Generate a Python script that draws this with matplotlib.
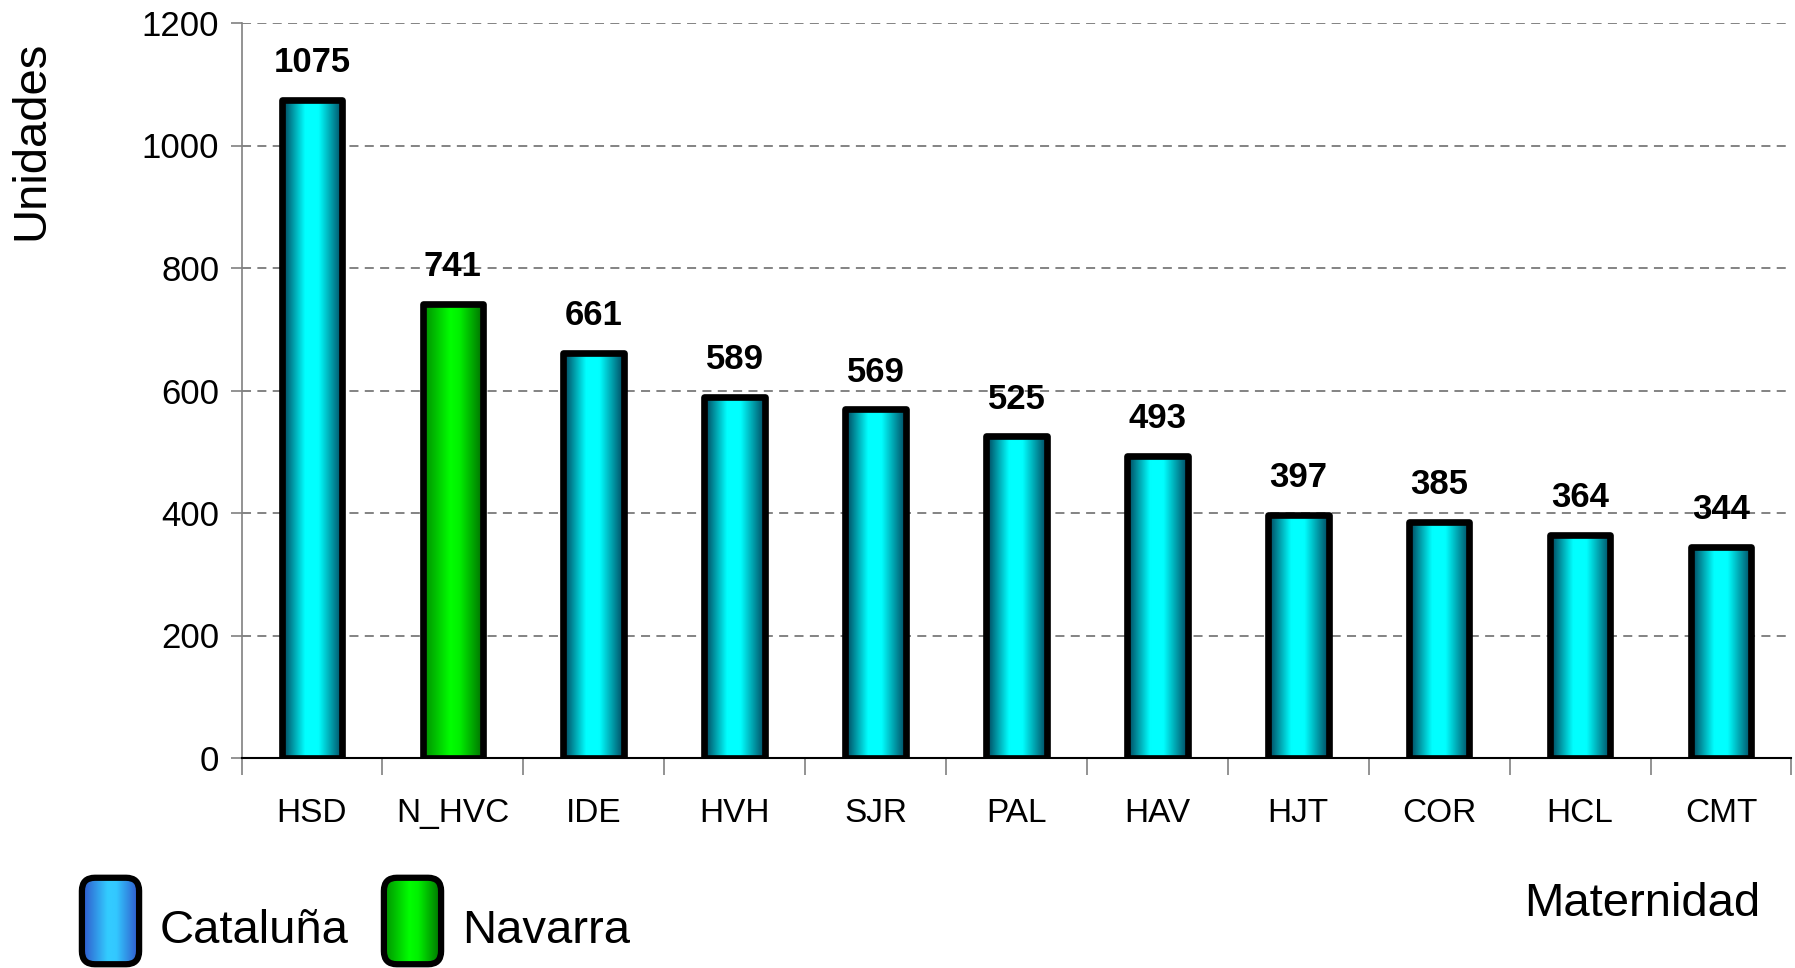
import numpy as np
import matplotlib
matplotlib.use("Agg")
import matplotlib.pyplot as plt
from matplotlib.colors import LinearSegmentedColormap
from matplotlib.patches import FancyBboxPatch

plt.rcParams['font.family'] = ['Liberation Sans', 'DejaVu Sans']

# data
maternidades = ["HSD", "N_HVC", "IDE", "HVH", "SJR", "PAL", "HAV", "HJT", "COR", "HCL", "CMT"]
unidades = [1075, 741, 661, 589, 569, 525, 493, 397, 385, 364, 344]
comunidad = ["Cataluña", "Navarra", "Cataluña", "Cataluña", "Cataluña", "Cataluña",
             "Cataluña", "Cataluña", "Cataluña", "Cataluña", "Cataluña"]
yticks = [0, 200, 400, 600, 800, 1000, 1200]

cmap_cyan = LinearSegmentedColormap.from_list(
    "cyan", [(0, "#003c55"), (0.38, "#00ffff"), (0.6, "#00ffff"), (1, "#00465e")])
cmap_green = LinearSegmentedColormap.from_list(
    "green", [(0, "#008a00"), (0.45, "#00ff00"), (0.6, "#00f000"), (1, "#006a00")])
cmap_blue = LinearSegmentedColormap.from_list(
    "blue", [(0, "#2f4fc8"), (0.45, "#33ccff"), (0.6, "#33c8ff"), (1, "#3050c8")])
cmaps = {"Cataluña": cmap_cyan, "Navarra": cmap_green}

grad = np.linspace(0, 1, 256).reshape(1, -1)

fig = plt.figure(figsize=(17.95, 9.68), dpi=100)
ax = fig.add_axes([241.5 / 1795, 1 - 758 / 968, 1 - 241.5 / 1795 - 0.002, (758 - 23) / 968])

x = np.arange(len(maternidades))
width = 0.43
bars = ax.bar(x, unidades, width=width, facecolor="none", edgecolor="black",
              linewidth=4.8, zorder=3)
for b, com in zip(bars, comunidad):
    b.set_joinstyle("round")
    x0, w, h = b.get_x(), b.get_width(), b.get_height()
    ax.imshow(grad, cmap=cmaps[com], aspect="auto", extent=(x0, x0 + w, 0, h),
              zorder=2, interpolation="bicubic")

for xi, v in zip(x, unidades):
    ax.annotate(str(v), (xi, v), xytext=(0, 15), textcoords="offset points",
                ha="center", va="bottom", fontsize=25, fontweight="bold")

ax.set_xlim(-0.5, 10.5)
ax.set_ylim(0, 1200)
ax.set_yticks(yticks)
ax.yaxis.grid(True, linestyle=(0, (5, 3.5)), color="#7a7a7a", linewidth=1.3)
ax.set_axisbelow(True)

ax.set_xticks(x)
ax.set_xticklabels(maternidades, fontsize=24)
ax.set_xticks(np.arange(-0.5, 11, 1), minor=True)
ax.tick_params(axis="x", which="major", length=0, pad=29)
ax.tick_params(axis="x", which="minor", length=12, width=1.2, color="#808080")
ax.tick_params(axis="y", labelsize=25, length=8, width=1.2, color="#808080", pad=8)

for s in ["top", "right"]:
    ax.spines[s].set_visible(False)
ax.spines["left"].set_color("#808080")
ax.spines["left"].set_linewidth(1.2)
ax.spines["bottom"].set_color("black")
ax.spines["bottom"].set_linewidth(1.5)

fig.text(31 / 1795, 1 - 140 / 968, "Unidades", rotation=90, fontsize=34,
         ha="center", va="center")
fig.text(1760 / 1795, 1 - 904 / 968, "Maternidad", fontsize=34,
         ha="right", va="center")

# legend boxes drawn by hand
for left, cm, label in [(78, cmap_blue, "Cataluña"), (380, cmap_green, "Navarra")]:
    lax = fig.add_axes([left / 1795, 0.0, 65 / 1795, (968 - 874) / 968])
    lax.axis("off")
    box = FancyBboxPatch((0.06, 0.04), 0.88, 0.92,
                         boxstyle="round,pad=0,rounding_size=0.2",
                         mutation_aspect=0.7, facecolor="none",
                         edgecolor="black", linewidth=4.5)
    im = lax.imshow(grad, cmap=cm, aspect="auto", extent=(0.05, 0.95, 0.03, 0.97),
                    interpolation="bicubic")
    lax.add_patch(box)
    im.set_clip_path(box)
    lax.set_xlim(0, 1)
    lax.set_ylim(0, 1)
    fig.text((left + 82) / 1795, 1 - 931 / 968, label, fontsize=34, va="center")

fig.savefig("out.png", dpi=100)
